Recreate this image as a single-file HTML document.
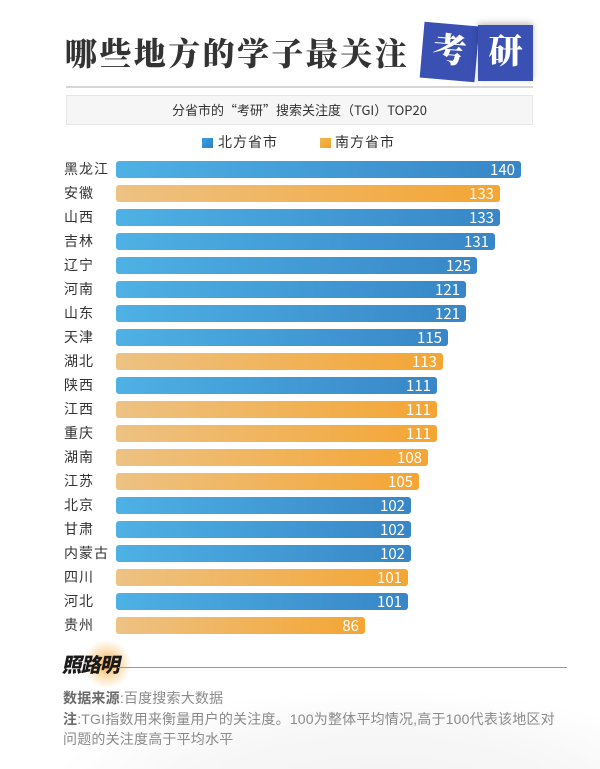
<!DOCTYPE html>
<html>
<head>
<meta charset="utf-8">
<style>
*{margin:0;padding:0;box-sizing:border-box;}
html,body{width:600px;height:769px;background:#fff;overflow:hidden;}
body{position:relative;font-family:"Liberation Sans","Noto Sans CJK SC",sans-serif;}
.abs{position:absolute;}
.title{left:65px;top:37px;font-family:"Liberation Serif","Noto Serif CJK SC",serif;font-weight:900;font-size:32px;line-height:34px;letter-spacing:2.4px;color:#333;white-space:nowrap;}
.box{width:55px;height:56px;background:#3a50b2;color:#fff;font-family:"Liberation Serif","Noto Serif CJK SC",serif;font-weight:900;font-size:34px;line-height:56px;text-align:center;}
.sub{left:66px;top:95px;width:467px;height:30px;background:#f6f6f6;border:1px solid #e6e6e6;font-family:"Noto Sans CJK SC",sans-serif;font-size:13px;line-height:28px;text-align:center;color:#333;}
.leg{font-family:"Liberation Sans","Noto Sans CJK SC",sans-serif;font-size:14px;line-height:16px;color:#333;letter-spacing:1px;}
.sq{width:11px;height:10px;}
.lab{left:64px;width:50px;height:17px;font-family:"Liberation Sans","Noto Sans CJK SC",sans-serif;font-size:14px;line-height:17px;color:#333;letter-spacing:1px;white-space:nowrap;}
.bar{left:116px;height:17px;border-radius:3px;color:#fff;font-family:"Noto Sans CJK SC","Liberation Sans",sans-serif;font-size:15px;line-height:17px;text-align:right;padding-right:6px;}
.n{background:linear-gradient(to right,#4eb1e4,#3886c7);}
.s{background:linear-gradient(to right,#edc283,#f4a533);}
.foot{left:63px;font-family:"Liberation Sans","Noto Sans CJK SC",sans-serif;font-size:14px;line-height:20px;color:#8a8a8a;letter-spacing:0.2px;white-space:nowrap;}
.foot b{color:#6a6a6a;font-weight:700;}
</style>
</head>
<body>
<!-- faint background waves -->
<div class="abs" style="left:0;top:680px;width:600px;height:89px;background:radial-gradient(ellipse 330px 100px at 380px 110px,#f3f3f3 0%,#f7f7f7 60%,rgba(255,255,255,0) 100%);"></div>

<div class="abs title">哪些地方的学子最关注</div>
<div class="abs box" style="left:422px;top:24px;transform:rotate(5deg);">考</div>
<div class="abs box" style="left:478px;top:25px;box-shadow:0 -2px 6px rgba(0,0,0,0.25);">研</div>
<div class="abs" style="left:66px;top:86px;width:467px;height:2px;background:#d6d6d6;"></div>
<div class="abs sub">分省市的“考研”搜索关注度（TGI）TOP20</div>

<div class="abs sq" style="left:202px;top:138px;background:linear-gradient(135deg,#3a9ee0,#2f7fc4);"></div>
<div class="abs leg" style="left:218px;top:134px;">北方省市</div>
<div class="abs sq" style="left:320px;top:138px;background:linear-gradient(135deg,#f4b850,#efa02a);"></div>
<div class="abs leg" style="left:335px;top:134px;">南方省市</div>

<div class="abs lab" style="top:161px;">黑龙江</div><div class="abs bar n" style="top:161px;width:405px;">140</div>
<div class="abs lab" style="top:185px;">安徽</div><div class="abs bar s" style="top:185px;width:384px;">133</div>
<div class="abs lab" style="top:209px;">山西</div><div class="abs bar n" style="top:209px;width:384px;">133</div>
<div class="abs lab" style="top:233px;">吉林</div><div class="abs bar n" style="top:233px;width:379px;">131</div>
<div class="abs lab" style="top:257px;">辽宁</div><div class="abs bar n" style="top:257px;width:361px;">125</div>
<div class="abs lab" style="top:281px;">河南</div><div class="abs bar n" style="top:281px;width:350px;">121</div>
<div class="abs lab" style="top:305px;">山东</div><div class="abs bar n" style="top:305px;width:350px;">121</div>
<div class="abs lab" style="top:329px;">天津</div><div class="abs bar n" style="top:329px;width:332px;">115</div>
<div class="abs lab" style="top:353px;">湖北</div><div class="abs bar s" style="top:353px;width:327px;">113</div>
<div class="abs lab" style="top:377px;">陕西</div><div class="abs bar n" style="top:377px;width:321px;">111</div>
<div class="abs lab" style="top:401px;">江西</div><div class="abs bar s" style="top:401px;width:321px;">111</div>
<div class="abs lab" style="top:425px;">重庆</div><div class="abs bar s" style="top:425px;width:321px;">111</div>
<div class="abs lab" style="top:449px;">湖南</div><div class="abs bar s" style="top:449px;width:312px;">108</div>
<div class="abs lab" style="top:473px;">江苏</div><div class="abs bar s" style="top:473px;width:303px;">105</div>
<div class="abs lab" style="top:497px;">北京</div><div class="abs bar n" style="top:497px;width:295px;">102</div>
<div class="abs lab" style="top:521px;">甘肃</div><div class="abs bar n" style="top:521px;width:295px;">102</div>
<div class="abs lab" style="top:545px;">内蒙古</div><div class="abs bar n" style="top:545px;width:295px;">102</div>
<div class="abs lab" style="top:569px;">四川</div><div class="abs bar s" style="top:569px;width:292px;">101</div>
<div class="abs lab" style="top:593px;">河北</div><div class="abs bar n" style="top:593px;width:292px;">101</div>
<div class="abs lab" style="top:617px;">贵州</div><div class="abs bar s" style="top:617px;width:249px;">86</div>

<!-- footer -->
<div class="abs" style="left:82px;top:640px;width:50px;height:48px;border-radius:50%;background:radial-gradient(circle at 50% 50%,rgba(245,160,40,0.85) 0%,rgba(248,180,80,0.45) 35%,rgba(255,255,255,0) 70%);"></div>
<div class="abs" style="left:63px;top:654px;font-family:'Liberation Sans','Noto Sans CJK SC',sans-serif;font-weight:900;font-size:20px;line-height:24px;color:#1a1a1a;transform:skewX(-12deg);letter-spacing:-1px;">照路明</div>
<div class="abs" style="left:118px;top:667px;width:449px;height:1px;background:#9a9a9a;"></div>
<div class="abs foot" style="top:688px;"><b>数据来源</b>:百度搜索大数据</div>
<div class="abs foot" style="top:709px;"><b>注</b>:TGI指数用来衡量用户的关注度。100为整体平均情况,高于100代表该地区对</div>
<div class="abs foot" style="top:729px;">问题的关注度高于平均水平</div>
</body>
</html>
